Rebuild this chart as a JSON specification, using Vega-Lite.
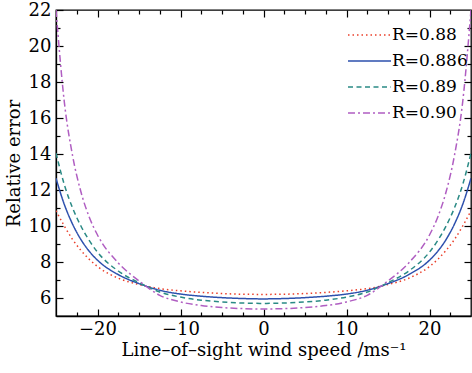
{
  "$schema": "https://vega.github.io/schema/vega-lite/v6.json",
  "width": 415,
  "height": 306,
  "autosize": {"type": "none"},
  "padding": {"left": 56, "top": 10, "right": 1, "bottom": 57},
  "background": "white",
  "config": {
    "view": {"stroke": "black", "strokeWidth": 1.3},
    "font": "DejaVu Serif",
    "axis": {
      "grid": false,
      "domainColor": "black",
      "domainWidth": 1.3,
      "tickColor": "black",
      "tickWidth": 1.2,
      "labelColor": "black",
      "labelFont": "DejaVu Serif",
      "titleFont": "DejaVu Serif",
      "titleColor": "black",
      "titleFontWeight": "normal"
    }
  },
  "data": {
    "values": [
      {"R": "R=0.88", "x": -25, "y": 10.85}, {"R": "R=0.88", "x": -24, "y": 10.0}, {"R": "R=0.88", "x": -23, "y": 9.25}, {"R": "R=0.88", "x": -22, "y": 8.65}, {"R": "R=0.88", "x": -21, "y": 8.15}, {"R": "R=0.88", "x": -20, "y": 7.75}, {"R": "R=0.88", "x": -17.5, "y": 7.1}, {"R": "R=0.88", "x": -15, "y": 6.75}, {"R": "R=0.88", "x": -12.5, "y": 6.52}, {"R": "R=0.88", "x": -10, "y": 6.4}, {"R": "R=0.88", "x": -7.5, "y": 6.31}, {"R": "R=0.88", "x": -5, "y": 6.25}, {"R": "R=0.88", "x": -2.5, "y": 6.21}, {"R": "R=0.88", "x": 0, "y": 6.2}, {"R": "R=0.88", "x": 2.5, "y": 6.21}, {"R": "R=0.88", "x": 5, "y": 6.25}, {"R": "R=0.88", "x": 7.5, "y": 6.31}, {"R": "R=0.88", "x": 10, "y": 6.4}, {"R": "R=0.88", "x": 12.5, "y": 6.52}, {"R": "R=0.88", "x": 15, "y": 6.75}, {"R": "R=0.88", "x": 17.5, "y": 7.1}, {"R": "R=0.88", "x": 20, "y": 7.75}, {"R": "R=0.88", "x": 21, "y": 8.15}, {"R": "R=0.88", "x": 22, "y": 8.65}, {"R": "R=0.88", "x": 23, "y": 9.25}, {"R": "R=0.88", "x": 24, "y": 10.0}, {"R": "R=0.88", "x": 25, "y": 10.85},
      {"R": "R=0.886", "x": -25, "y": 12.65}, {"R": "R=0.886", "x": -24, "y": 11.2}, {"R": "R=0.886", "x": -23, "y": 10.1}, {"R": "R=0.886", "x": -22, "y": 9.25}, {"R": "R=0.886", "x": -21, "y": 8.6}, {"R": "R=0.886", "x": -20, "y": 8.1}, {"R": "R=0.886", "x": -17.5, "y": 7.3}, {"R": "R=0.886", "x": -15, "y": 6.8}, {"R": "R=0.886", "x": -12.5, "y": 6.43}, {"R": "R=0.886", "x": -10, "y": 6.22}, {"R": "R=0.886", "x": -7.5, "y": 6.1}, {"R": "R=0.886", "x": -5, "y": 6.02}, {"R": "R=0.886", "x": -2.5, "y": 5.97}, {"R": "R=0.886", "x": 0, "y": 5.95}, {"R": "R=0.886", "x": 2.5, "y": 5.97}, {"R": "R=0.886", "x": 5, "y": 6.02}, {"R": "R=0.886", "x": 7.5, "y": 6.1}, {"R": "R=0.886", "x": 10, "y": 6.22}, {"R": "R=0.886", "x": 12.5, "y": 6.43}, {"R": "R=0.886", "x": 15, "y": 6.8}, {"R": "R=0.886", "x": 17.5, "y": 7.3}, {"R": "R=0.886", "x": 20, "y": 8.1}, {"R": "R=0.886", "x": 21, "y": 8.6}, {"R": "R=0.886", "x": 22, "y": 9.25}, {"R": "R=0.886", "x": 23, "y": 10.1}, {"R": "R=0.886", "x": 24, "y": 11.2}, {"R": "R=0.886", "x": 25, "y": 12.65},
      {"R": "R=0.89", "x": -25, "y": 14.05}, {"R": "R=0.89", "x": -24, "y": 12.3}, {"R": "R=0.89", "x": -23, "y": 11.0}, {"R": "R=0.89", "x": -22, "y": 10.0}, {"R": "R=0.89", "x": -21, "y": 9.2}, {"R": "R=0.89", "x": -20, "y": 8.55}, {"R": "R=0.89", "x": -17.5, "y": 7.5}, {"R": "R=0.89", "x": -15, "y": 6.85}, {"R": "R=0.89", "x": -12.5, "y": 6.33}, {"R": "R=0.89", "x": -10, "y": 6.05}, {"R": "R=0.89", "x": -7.5, "y": 5.88}, {"R": "R=0.89", "x": -5, "y": 5.78}, {"R": "R=0.89", "x": -2.5, "y": 5.72}, {"R": "R=0.89", "x": 0, "y": 5.7}, {"R": "R=0.89", "x": 2.5, "y": 5.72}, {"R": "R=0.89", "x": 5, "y": 5.78}, {"R": "R=0.89", "x": 7.5, "y": 5.88}, {"R": "R=0.89", "x": 10, "y": 6.05}, {"R": "R=0.89", "x": 12.5, "y": 6.33}, {"R": "R=0.89", "x": 15, "y": 6.85}, {"R": "R=0.89", "x": 17.5, "y": 7.5}, {"R": "R=0.89", "x": 20, "y": 8.55}, {"R": "R=0.89", "x": 21, "y": 9.2}, {"R": "R=0.89", "x": 22, "y": 10.0}, {"R": "R=0.89", "x": 23, "y": 11.0}, {"R": "R=0.89", "x": 24, "y": 12.3}, {"R": "R=0.89", "x": 25, "y": 14.05},
      {"R": "R=0.90", "x": -25, "y": 22.0}, {"R": "R=0.90", "x": -24, "y": 16.9}, {"R": "R=0.90", "x": -23, "y": 13.9}, {"R": "R=0.90", "x": -22, "y": 11.9}, {"R": "R=0.90", "x": -21, "y": 10.5}, {"R": "R=0.90", "x": -20, "y": 9.5}, {"R": "R=0.90", "x": -17.5, "y": 7.95}, {"R": "R=0.90", "x": -15, "y": 6.95}, {"R": "R=0.90", "x": -12.5, "y": 6.15}, {"R": "R=0.90", "x": -10, "y": 5.78}, {"R": "R=0.90", "x": -7.5, "y": 5.58}, {"R": "R=0.90", "x": -5, "y": 5.47}, {"R": "R=0.90", "x": -2.5, "y": 5.41}, {"R": "R=0.90", "x": 0, "y": 5.39}, {"R": "R=0.90", "x": 2.5, "y": 5.41}, {"R": "R=0.90", "x": 5, "y": 5.47}, {"R": "R=0.90", "x": 7.5, "y": 5.58}, {"R": "R=0.90", "x": 10, "y": 5.78}, {"R": "R=0.90", "x": 12.5, "y": 6.15}, {"R": "R=0.90", "x": 15, "y": 6.95}, {"R": "R=0.90", "x": 17.5, "y": 7.95}, {"R": "R=0.90", "x": 20, "y": 9.5}, {"R": "R=0.90", "x": 21, "y": 10.5}, {"R": "R=0.90", "x": 22, "y": 11.9}, {"R": "R=0.90", "x": 23, "y": 13.9}, {"R": "R=0.90", "x": 24, "y": 16.9}, {"R": "R=0.90", "x": 25, "y": 22.0}
    ]
  },
  "layer": [
    {
      "mark": {"type": "line", "interpolate": "monotone", "strokeWidth": 1.5, "clip": true},
      "encoding": {
        "x": {
          "field": "x", "type": "quantitative",
          "scale": {"domain": [-25, 25], "nice": false, "zero": false},
          "axis": {
            "orient": "bottom",
            "values": [-22.5, -20, -17.5, -15, -12.5, -10, -7.5, -5, -2.5, 0, 2.5, 5, 7.5, 10, 12.5, 15, 17.5, 20, 22.5],
            "labelExpr": "datum.value % 10 === 0 ? datum.label : ''",
            "tickSize": {"condition": {"test": "datum.value % 10 === 0", "value": -7}, "value": -4},
            "labelPadding": 11,
            "labelFontSize": 18,
            "title": "Line–of–sight wind speed /ms⁻¹",
            "titleFontSize": 18,
            "titlePadding": 3
          }
        },
        "y": {
          "field": "y", "type": "quantitative",
          "scale": {"domain": [5, 22], "nice": false, "zero": false},
          "axis": {
            "orient": "left",
            "values": [6, 7, 8, 9, 10, 11, 12, 13, 14, 15, 16, 17, 18, 19, 20, 21, 22],
            "labelExpr": "datum.value % 2 === 0 ? datum.label : ''",
            "tickSize": {"condition": {"test": "datum.value % 2 === 0", "value": -7}, "value": -4},
            "labelPadding": 12,
            "labelFontSize": 18,
            "title": "Relative error",
            "titleFontSize": 18,
            "titlePadding": 5
          }
        },
        "color": {
          "field": "R", "type": "nominal",
          "scale": {"domain": ["R=0.88", "R=0.886", "R=0.89", "R=0.90"], "range": ["#ea3f2a", "#2d50ad", "#2a8a85", "#b05ec2"]},
          "legend": {"title": null, "orient": "none", "legendX": 291, "legendY": 13, "symbolType": "stroke", "symbolSize": 1849, "symbolStrokeWidth": 1.5, "clipHeight": 24, "labelFontSize": 17, "labelFont": "DejaVu Serif", "labelColor": "black", "labelOffset": 0, "rowPadding": 2}
        },
        "strokeDash": {
          "field": "R", "type": "nominal",
          "scale": {"domain": ["R=0.88", "R=0.886", "R=0.89", "R=0.90"], "range": [[1.5, 3], [1, 0], [5, 3.5], [7, 3, 2, 3]]},
          "legend": {"title": null, "orient": "none", "legendX": 291, "legendY": 13, "symbolType": "stroke", "symbolSize": 1849, "symbolStrokeWidth": 1.5, "clipHeight": 24, "labelFontSize": 17, "labelFont": "DejaVu Serif", "labelColor": "black", "labelOffset": 0, "rowPadding": 2}
        }
      }
    },
    {
      "mark": {"type": "line", "opacity": 0},
      "encoding": {
        "x": {
          "field": "x", "type": "quantitative",
          "axis": {
            "orient": "top",
            "values": [-22.5, -20, -17.5, -15, -12.5, -10, -7.5, -5, -2.5, 0, 2.5, 5, 7.5, 10, 12.5, 15, 17.5, 20, 22.5],
            "labels": false, "domain": false, "title": null,
            "tickSize": {"condition": {"test": "datum.value % 10 === 0", "value": -7}, "value": -4}
          }
        },
        "y": {
          "field": "y", "type": "quantitative",
          "axis": {
            "orient": "right",
            "values": [6, 7, 8, 9, 10, 11, 12, 13, 14, 15, 16, 17, 18, 19, 20, 21],
            "labels": false, "domain": false, "title": null,
            "tickSize": {"condition": {"test": "datum.value % 2 === 0", "value": -7}, "value": -4}
          }
        },
        "detail": {"field": "R", "type": "nominal"}
      }
    }
  ],
  "resolve": {"axis": {"x": "independent", "y": "independent"}}
}
